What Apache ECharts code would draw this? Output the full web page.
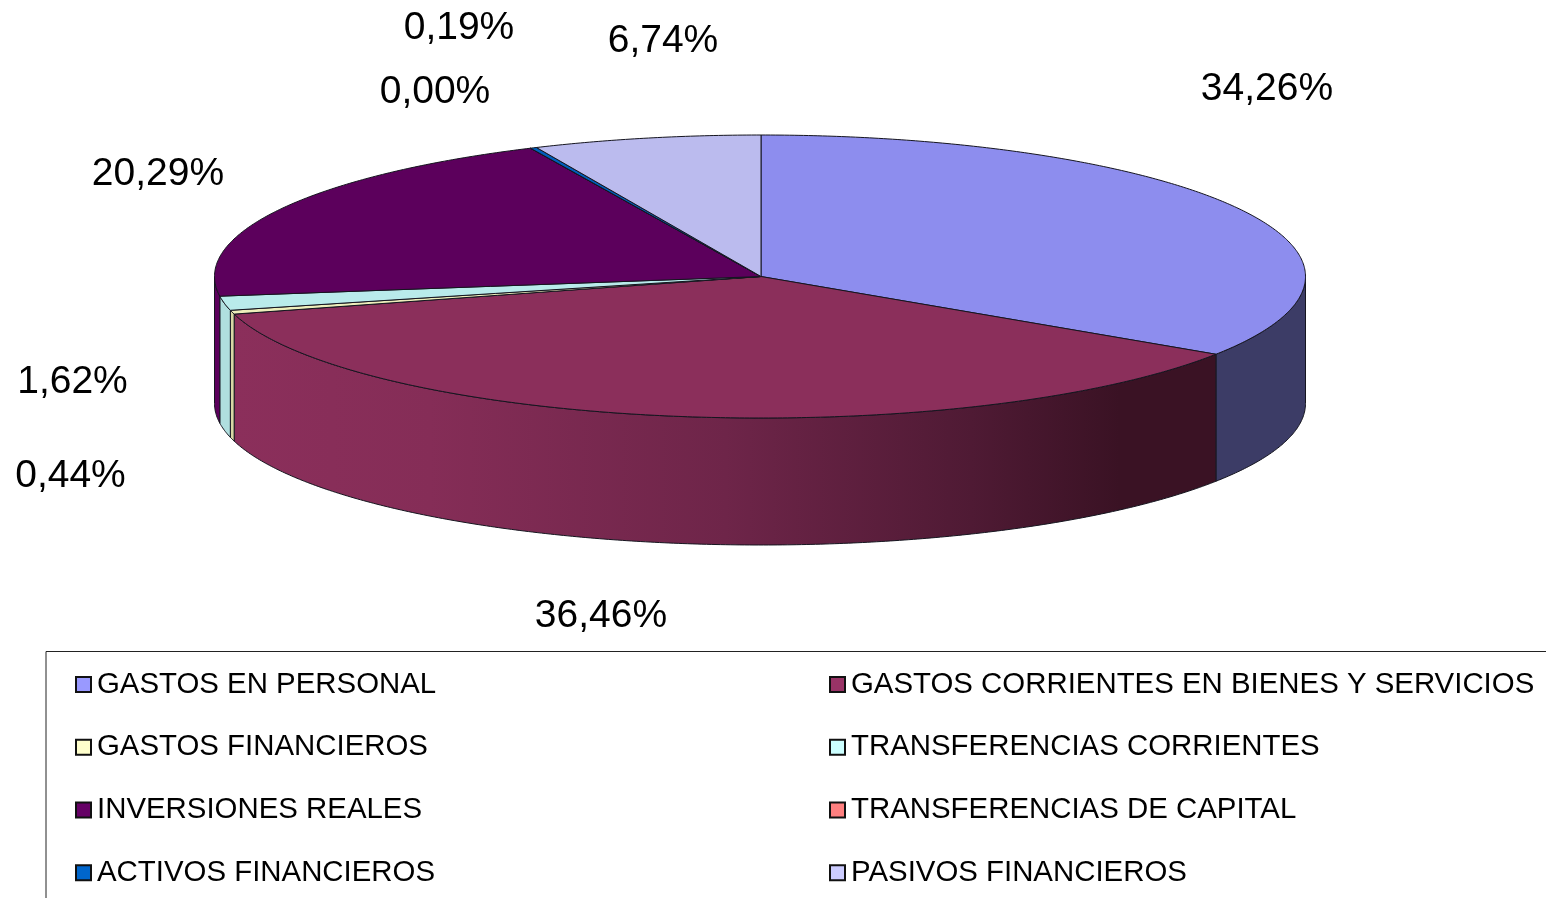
<!DOCTYPE html>
<html><head><meta charset="utf-8">
<style>html,body{margin:0;padding:0;background:#fff}#c{width:1546px;height:898px}</style>
<script src="https://cdn.jsdelivr.net/npm/echarts@6/dist/echarts.min.js"></script>
</head><body><div id="c"></div>
<script>
const categories = ['GASTOS EN PERSONAL','GASTOS CORRIENTES EN BIENES Y SERVICIOS','GASTOS FINANCIEROS','TRANSFERENCIAS CORRIENTES','INVERSIONES REALES','TRANSFERENCIAS DE CAPITAL','ACTIVOS FINANCIEROS','PASIVOS FINANCIEROS'];
const values = [34.26,36.46,0.44,1.62,20.29,0.00,0.19,6.74];
const legendColors = ['#9999FF','#993366','#FFFFCC','#CCFFFF','#660066','#FF8080','#0066CC','#CCCCFF'];
const topColors = ['#8D8DEE','#8B2F5B','#EEEEBB','#B9EBEB','#5C005C','#EE7777','#005EBB','#BBBBEE'];
const wallColors = ['#3C3C66','#8B2F5B','#D8D8A4','#B0DFDF','#5C005C','#EE7777','#005EBB','#BBBBEE'];
const labelAnchors = [[1267,89],[601,616],[70.5,476],[72.5,382],[158,174],[435,92],[459,28],[663,41]];

const cx=761, cy=276.5, rxRight=544.5, rxLeft=546.5, ry=141.5, depth=127;
const total = values.reduce((a,b)=>a+b,0);
const pt=(deg,dy)=>{const t=deg*Math.PI/180,s=Math.sin(t);return [cx+(s>=0?rxRight:rxLeft)*s, cy-ry*Math.cos(t)+(dy||0)];};
const arc=(a,b,dy)=>{const n=Math.max(2,Math.ceil(Math.abs(b-a)*2));const o=[];for(let i=0;i<=n;i++)o.push(pt(a+(b-a)*i/n,dy));return o;};
const starts=[];let acc=0;values.forEach(v=>{starts.push(acc/total*360);acc+=v;});
const fmt=v=>v.toFixed(2).replace('.',',')+'%';
const edge='#15151f';

function wallFill(i){
  if(i!==1) return wallColors[i];
  return new echarts.graphic.LinearGradient(233,0,1218,0,[
    {offset:0,color:'#8B2F5B'},{offset:0.2,color:'#852D57'},{offset:0.5,color:'#6E2549'},
    {offset:0.75,color:'#4F1A34'},{offset:0.9,color:'#3A1224'},{offset:1,color:'#3A1224'}],true);
}

const series=categories.map((name,i)=>({
  type:'custom',name,coordinateSystem:'none',silent:true,
  itemStyle:{color:legendColors[i]},
  data:[[values[i]]],
  renderItem(){
    const a=starts[i], b=a+values[i]/total*360;
    const children=[];
    const wa=Math.max(a,90), wb=Math.min(b,270);
    if(wb>wa){
      const top=arc(wa,wb,0), bot=arc(wa,wb,depth).reverse();
      children.push({type:'polygon',z2:1,shape:{points:top.concat(bot)},
        style:{fill:wallFill(i),stroke:edge,lineWidth:1}});
    }
    children.push({type:'polygon',z2:2,shape:{points:[[cx,cy]].concat(arc(a,b,0))},
      style:{fill:topColors[i],stroke:edge,lineWidth:1}});
    children.push({type:'text',z2:3,style:{text:fmt(values[i]),x:labelAnchors[i][0],y:labelAnchors[i][1],
      align:'center',verticalAlign:'middle',fill:'#000',fontFamily:'"Liberation Sans",Arial,sans-serif',fontSize:39}});
    return {type:'group',children};
  }
}));

const legendBase={orient:'vertical',icon:'rect',itemWidth:15,itemHeight:15,itemGap:33.75,top:670,height:400,width:800,padding:0,
  selectedMode:false,itemStyle:{borderColor:'#111',borderWidth:2},
  textStyle:{fontFamily:'"Liberation Sans",Arial,sans-serif',fontSize:29.4,color:'#000',padding:[0,0,0,1]}};
const chart=echarts.init(document.getElementById('c'),null,{renderer:'canvas'});
chart.setOption({
  animation:false,backgroundColor:'#fff',
  legend:[
    Object.assign({},legendBase,{left:75,data:categories.filter((c,i)=>i%2===0)}),
    Object.assign({},legendBase,{left:829,data:categories.filter((c,i)=>i%2===1)})
  ],
  graphic:{elements:[{type:'polyline',silent:true,shape:{points:[[46,898],[46,651.5],[1546,651.5]]},style:{stroke:'#222',fill:null,lineWidth:1}}]},
  series
});
</script></body></html>
